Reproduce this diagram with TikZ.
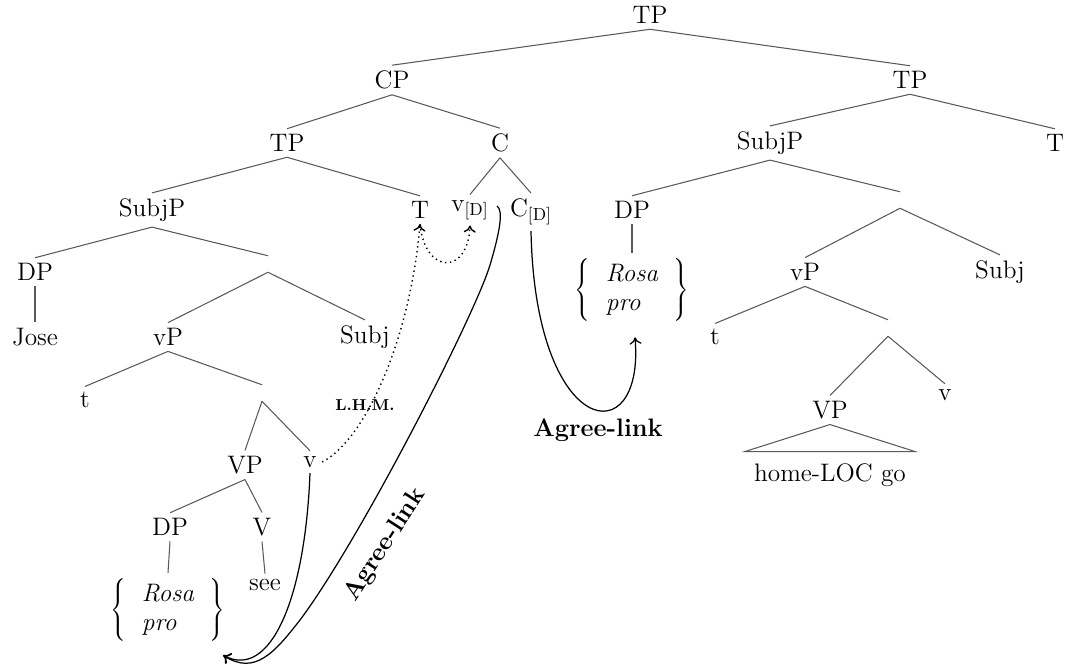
\documentclass[tikz,border=0pt]{standalone}
\usetikzlibrary{arrows.meta}
\tikzset{
  cat/.style={inner sep=3pt, font=\fontsize{14.4}{17}\selectfont},
  emp/.style={inner sep=0pt, minimum height=9pt, minimum width=2pt},
  br/.style={draw=black!65, line width=0.6pt},
  agr/.style={-{To[length=1.4mm,width=2.4mm]}, line width=0.7pt},
  lhm/.style={-{To[length=1.4mm,width=2.4mm]}, dotted, line width=0.8pt},
  agrlab/.style={font=\fontsize{14.4}{17}\bfseries},
}
\newcommand{\rosapro}{$\left\{\;\begin{array}{l}\textit{Rosa}\\ \textit{pro}\end{array}\;\right\}$}

\begin{document}
\begin{tikzpicture}[x=0.02cm,y=-0.02cm]
    \useasboundingbox (0,0) rectangle (1065,667);
    % upper tree
    \node[cat](tp)at(650,15){TP};
    \node[cat](cp)at(392,80){CP};
    \node[cat](tpr)at(910,80){TP};
    \node[cat](tpl)at(287,143){TP};
    \node[cat](c)at(500,143){C};
    \node[cat](sjr)at(770,143){SubjP};
    \node[cat](tr)at(1055,143){T};
    \node[cat](sjl)at(152,210){SubjP};
    \node[cat](t)at(420,210){T};
    \node[cat](vd)at(470,210){v$_{[\mathrm{D}]}$};
    \node[cat](cd)at(531,212){C$_{[\mathrm{D}]}$};
    \node[cat](dpr)at(632,210){DP};
    \node[emp](er)at(900,200){};
    % left branch
    \node[cat](dpl)at(35,272){DP};
    \node[emp](el)at(268,264){};
    \node[cat](jose)at(35,337){Jose};
    \node[cat](vpl)at(168,337){vP};
    \node[cat](sbl)at(365,337){Subj};
    \node[cat](ttl)at(85,400){t};
    \node[emp](el2)at(262,393){};
    \node[cat](vpl2)at(245,465){VP};
    \node[cat](vl)at(310,462){v};
    \node[cat](dpl2)at(170,527){DP};
    \node[cat](vl2)at(262,527){V};
    \node[cat](rpl)at(168,610){\rosapro};
    \node[cat](see)at(265,585){see};
    % right branch
    \node[cat](rpr)at(632,290){\rosapro};
    \node[cat](vpr)at(805,272){vP};
    \node[cat](sbr)at(1000,272){Subj};
    \node[cat](ttr)at(715,337){t};
    \node[emp](er2)at(888,328){};
    \node[cat](vpr2)at(830,410){VP};
    \node[cat](vr)at(945,395){v};
    \node[cat](hl)at(830,475){home-LOC go};
    % branches
    \draw[br](tp.south)--(cp.north);\draw[br](tp.south)--(tpr.north);
    \draw[br](cp.south)--(tpl.north);\draw[br](cp.south)--(c.north);
    \draw[br](tpr.south)--(sjr.north);\draw[br](tpr.south)--(tr.north);
    \draw[br](tpl.south)--(sjl.north);\draw[br](tpl.south)--(t.north);
    \draw[br](c.south)--(vd.north);\draw[br](c.south)--(cd.north);
    \draw[br](sjr.south)--(dpr.north);\draw[br](sjr.south)--(er.north);
    \draw[br](sjl.south)--(dpl.north);\draw[br](sjl.south)--(el.north);
    \draw[br](dpr.south)--(rpr.north);
    \draw[br](er.south)--(vpr.north);\draw[br](er.south)--(sbr.north);
    \draw[br](dpl.south)--(jose.north);
    \draw[br](el.south)--(vpl.north);\draw[br](el.south)--(sbl.north);
    \draw[br](vpr.south)--(ttr.north);\draw[br](vpr.south)--(er2.north);
    \draw[br](vpl.south)--(ttl.north);\draw[br](vpl.south)--(el2.north);
    \draw[br](er2.south)--(vpr2.north);\draw[br](er2.south)--(vr.north);
    \draw[br](el2.south)--(vpl2.north);\draw[br](el2.south)--(vl.north);
    \draw[br](vpr2.south)--+(-85,27)--+(85,27)--cycle;
    \draw[br](vpl2.south)--(dpl2.north);\draw[br](vpl2.south)--(vl2.north);
    \draw[br](dpl2.south)--(rpl.north);
    \draw[br](vl2.south)--(see.north);
    % head movement and agree links
    \draw[lhm](vl.east)..controls(365,440)and(410,340)..(t.south);
    \draw[lhm](t.south)..controls(425,275)and(468,275)..(vd.south);
    \node[font=\fontsize{9}{10}\bfseries](lhmlab)at(365,405){L.H.M.};
    \coordinate(ags)at(497,206);
    \draw[agr](ags)..controls(503,210)and(501,228)..(490,265)
      ..controls(475,315)and(360,540)..(300,620)
      ..controls(275,652)and(255,676)..([shift={(-8,8)}]rpl.south east);
    \draw[agr](vl.south)..controls(305,600)and(270,680)..([shift={(-8,8)}]rpl.south east);
    \node[agrlab,rotate=57](al2)at(385,545){Agree-link};
    \draw[agr](cd.south)..controls(535,440)and(645,455)..([shift={(3,10)}]rpr.south);
    \node[agrlab](al1)at(598,430){Agree-link};
  \end{tikzpicture}
\end{document}
